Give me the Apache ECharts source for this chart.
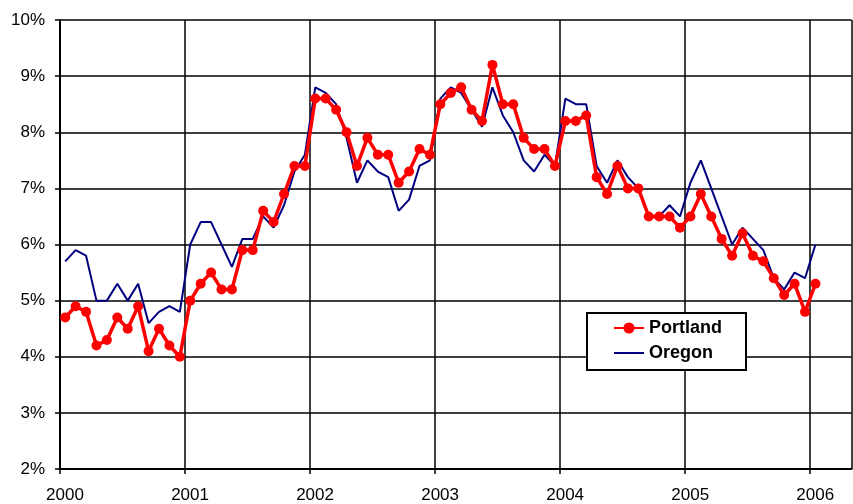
<!DOCTYPE html>
<html>
<head>
<meta charset="utf-8">
<script src="https://cdn.jsdelivr.net/npm/echarts@6/dist/echarts.min.js"></script>
<style>html,body{margin:0;padding:0;background:#fff;}#c{width:853px;height:504px;}</style>
</head>
<body>
<div id="c"></div>
<script>
// Monthly data, Jan 2000 .. Jan 2006
const startYear = 2000;
const portland = [
  4.7, 4.9, 4.8, 4.2, 4.3, 4.7, 4.5, 4.9, 4.1, 4.5, 4.2, 4.0,
  5.0, 5.3, 5.5, 5.2, 5.2, 5.9, 5.9, 6.6, 6.4, 6.9, 7.4, 7.4,
  8.6, 8.6, 8.4, 8.0, 7.4, 7.9, 7.6, 7.6, 7.1, 7.3, 7.7, 7.6,
  8.5, 8.7, 8.8, 8.4, 8.2, 9.2, 8.5, 8.5, 7.9, 7.7, 7.7, 7.4,
  8.2, 8.2, 8.3, 7.2, 6.9, 7.4, 7.0, 7.0, 6.5, 6.5, 6.5, 6.3,
  6.5, 6.9, 6.5, 6.1, 5.8, 6.2, 5.8, 5.7, 5.4, 5.1, 5.3, 4.8,
  5.3
];
const oregon = [
  5.7, 5.9, 5.8, 5.0, 5.0, 5.3, 5.0, 5.3, 4.6, 4.8, 4.9, 4.8,
  6.0, 6.4, 6.4, 6.0, 5.6, 6.1, 6.1, 6.5, 6.3, 6.7, 7.3, 7.6,
  8.8, 8.7, 8.5, 7.9, 7.1, 7.5, 7.3, 7.2, 6.6, 6.8, 7.4, 7.5,
  8.6, 8.8, 8.7, 8.4, 8.1, 8.8, 8.3, 8.0, 7.5, 7.3, 7.6, 7.4,
  8.6, 8.5, 8.5, 7.4, 7.1, 7.5, 7.2, 7.0, 6.5, 6.5, 6.7, 6.5,
  7.1, 7.5, 7.0, 6.5, 6.0, 6.3, 6.1, 5.9, 5.4, 5.2, 5.5, 5.4,
  6.0
];
const seriesNames = ['Portland', 'Oregon'];
const yTicks = [2, 3, 4, 5, 6, 7, 8, 9, 10];

function toPairs(arr) {
  return arr.map((v, i) => [startYear + (i + 0.5) / 12, v]);
}

const font = 'Arial, "Liberation Sans", sans-serif';
const chart = echarts.init(document.getElementById('c'), null, {renderer: 'canvas'});
chart.setOption({
  animation: false,
  backgroundColor: '#fff',
  grid: {left: 60, right: 1.5, top: 20, bottom: 33.5, show: false},
  xAxis: {
    type: 'value', min: 2000, max: 2006.33, interval: 1,
    axisLine: {show: true, onZero: false, lineStyle: {color: '#000', width: 2}},
    axisTick: {show: true, length: 5, lineStyle: {color: '#000', width: 1.5}},
    splitLine: {show: true, lineStyle: {color: '#000', width: 1.5}},
    axisLabel: {
      color: '#000', fontSize: 17, fontFamily: font, margin: 18,
      padding: [0, 0, 0, 10], showMaxLabel: false,
      formatter: v => Math.abs(v - Math.round(v)) < 1e-6 ? String(Math.round(v)) : ''
    }
  },
  yAxis: {
    type: 'value', min: yTicks[0], max: yTicks[yTicks.length - 1], interval: 1,
    axisLine: {show: true, lineStyle: {color: '#000', width: 2}},
    axisTick: {show: true, length: 5, lineStyle: {color: '#000', width: 1.5}},
    splitLine: {show: true, lineStyle: {color: '#000', width: 1.5}},
    axisLabel: {color: '#000', fontSize: 17, fontFamily: font, margin: 15, formatter: '{value}%'}
  },
  legend: {
    data: [
      {name: seriesNames[0]},
      {name: seriesNames[1], itemStyle: {opacity: 0}}
    ],
    orient: 'vertical',
    left: 587, top: 313,
    backgroundColor: '#fff',
    borderColor: '#000', borderWidth: 2, borderRadius: 0,
    padding: [6, 24, 8, 26],
    itemGap: 7, itemWidth: 30, itemHeight: 14,
    textStyle: {color: '#000', fontSize: 18, fontWeight: 'bold', fontFamily: font}
  },
  series: [
    {
      name: seriesNames[1], type: 'line', data: toPairs(oregon),
      showSymbol: false, symbol: 'none', z: 2,
      lineStyle: {color: '#000080', width: 2}, itemStyle: {color: '#000080'}
    },
    {
      name: seriesNames[0], type: 'line', data: toPairs(portland),
      symbol: 'circle', symbolSize: 10, z: 3,
      lineStyle: {color: '#ff0000', width: 3.5}, itemStyle: {color: '#ff0000'}
    }
  ]
});
</script>
</body>
</html>
